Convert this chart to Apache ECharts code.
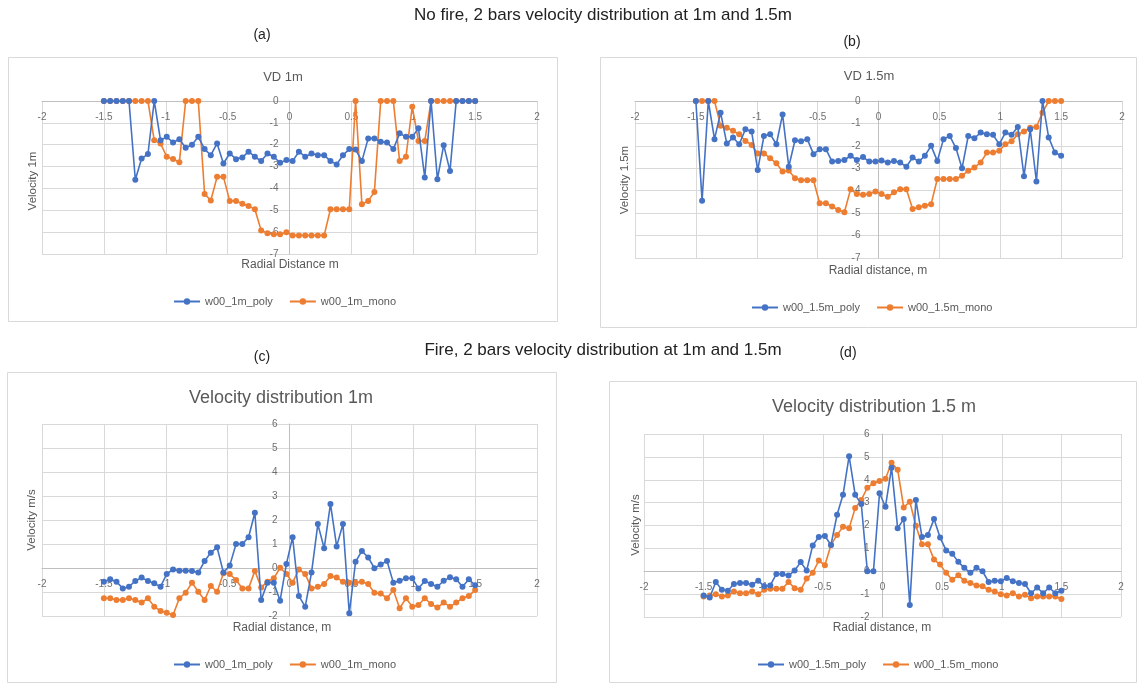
<!DOCTYPE html>
<html><head><meta charset="utf-8">
<script src="https://cdn.jsdelivr.net/npm/echarts@6/dist/echarts.min.js"></script>
<style>html,body{margin:0;padding:0;background:#fff}#c{width:1137px;height:684px}</style>
</head><body><div id="c"></div>
<script>
// Radial distance positions (m), 60 points
const xs = [-1.5, -1.449, -1.398, -1.347, -1.297, -1.246, -1.195, -1.144, -1.093, -1.042,
  -0.992, -0.941, -0.89, -0.839, -0.788, -0.737, -0.686, -0.636, -0.585, -0.534,
  -0.483, -0.432, -0.381, -0.331, -0.28, -0.229, -0.178, -0.127, -0.076, -0.025,
  0.025, 0.076, 0.127, 0.178, 0.229, 0.28, 0.331, 0.381, 0.432, 0.483,
  0.534, 0.585, 0.636, 0.686, 0.737, 0.788, 0.839, 0.89, 0.941, 0.992,
  1.042, 1.093, 1.144, 1.195, 1.246, 1.297, 1.347, 1.398, 1.449, 1.5];

// (a) No fire, 1 m
const a_poly = [0,0,0,0,0,-3.6,-2.63,-2.43,0,-1.8,-1.64,-1.9,-1.75,-2.14,-2.0,-1.64,-2.2,-2.48,-1.94,-2.86,
  -2.4,-2.66,-2.58,-2.32,-2.55,-2.75,-2.4,-2.55,-2.83,-2.7,
  -2.75,-2.32,-2.55,-2.4,-2.48,-2.48,-2.75,-2.9,-2.48,-2.2,-2.22,-2.75,-1.71,-1.71,-1.87,-1.9,-2.2,-1.48,-1.64,-1.64,
  -1.25,-3.5,0,-3.58,-2.02,-3.2,0,0,0,0];
const a_mono = [0,0,0,0,0,0,0,0,-1.8,-1.95,-2.55,-2.65,-2.8,0,0,0,-4.25,-4.55,-3.47,-3.47,
  -4.57,-4.57,-4.7,-4.8,-4.95,-5.92,-6.05,-6.1,-6.1,-6.0,
  -6.15,-6.15,-6.15,-6.15,-6.15,-6.15,-4.95,-4.95,-4.95,-4.95,0,-4.72,-4.57,-4.16,0,0,0,-2.75,-2.55,-0.26,
  -1.83,-1.83,0,0,0,0,0,0,0,0];

// (b) No fire, 1.5 m
const b_poly = [0,-4.45,0,-1.7,-0.52,-1.9,-1.63,-1.93,-1.26,-1.36,-3.08,-1.56,-1.48,-1.93,-0.6,-2.93,-1.75,-1.8,-1.7,-2.37,
  -2.15,-2.15,-2.7,-2.67,-2.63,-2.44,-2.63,-2.5,-2.7,-2.7,
  -2.65,-2.74,-2.67,-2.74,-2.93,-2.52,-2.7,-2.44,-2.0,-2.67,-1.7,-1.56,-2.1,-3.0,-1.56,-1.66,-1.41,-1.48,-1.51,-1.93,
  -1.41,-1.51,-1.16,-3.36,-1.26,-3.59,0,-1.63,-2.3,-2.44];
const b_mono = [0,0,0,0,-1.1,-1.19,-1.33,-1.48,-1.78,-1.96,-2.34,-2.34,-2.55,-2.78,-3.14,-3.1,-3.44,-3.53,-3.53,-3.53,
  -4.56,-4.56,-4.7,-4.86,-4.96,-3.93,-4.15,-4.18,-4.15,-4.03,
  -4.15,-4.27,-4.07,-3.93,-3.93,-4.81,-4.74,-4.67,-4.6,-3.48,-3.48,-3.48,-3.48,-3.33,-3.11,-2.96,-2.74,-2.3,-2.3,-2.22,
  -1.93,-1.8,-1.48,-1.36,-1.19,-1.16,-0.52,0,0,0];

// (c) Fire, 1 m
const c_poly = [-0.57,-0.47,-0.57,-0.85,-0.78,-0.54,-0.4,-0.54,-0.64,-0.78,-0.25,-0.06,-0.11,-0.11,-0.12,-0.19,0.29,0.64,0.86,-0.19,
  0.1,1.0,1.0,1.28,2.3,-1.33,-0.61,-0.61,-1.36,0.17,
  1.28,-1.17,-1.61,-0.19,1.83,0.82,2.67,0.9,1.83,-1.89,0.26,0.71,0.44,-0.01,0.15,0.29,-0.61,-0.53,-0.43,-0.43,
  -0.85,-0.54,-0.67,-0.78,-0.53,-0.39,-0.47,-0.78,-0.47,-0.72];
const c_mono = [-1.26,-1.26,-1.33,-1.33,-1.26,-1.33,-1.44,-1.26,-1.61,-1.79,-1.86,-1.96,-1.26,-1.03,-0.61,-0.99,-1.33,-0.75,-0.99,-0.22,
  -0.25,-0.5,-0.85,-0.85,-0.12,-0.81,-0.57,-0.43,0.01,-0.25,
  -0.61,-0.06,-0.25,-0.85,-0.78,-0.67,-0.33,-0.4,-0.57,-0.61,-0.61,-0.57,-0.67,-1.03,-1.06,-1.26,-0.92,-1.68,-1.26,-1.61,
  -1.54,-1.26,-1.5,-1.65,-1.44,-1.61,-1.44,-1.26,-1.17,-0.92];

// (d) Fire, 1.5 m
const d_poly = [-1.06,-1.15,-0.47,-0.81,-0.85,-0.56,-0.51,-0.51,-0.59,-0.41,-0.66,-0.62,-0.12,-0.12,-0.19,0.03,0.4,0.03,1.13,1.5,
  1.54,1.15,2.47,3.34,5.03,3.34,2.94,0,0,3.41,
  2.82,4.53,1.88,2.28,-1.47,3.12,1.5,1.59,2.28,1.47,0.91,0.76,0.41,0.15,-0.07,0.15,0,-0.47,-0.41,-0.44,
  -0.29,-0.44,-0.51,-0.56,-0.96,-0.71,-0.96,-0.71,-0.96,-0.85];
const d_mono = [-1.1,-1.06,-1.0,-1.1,-1.06,-0.88,-0.96,-0.96,-0.88,-1.0,-0.81,-0.76,-0.76,-0.76,-0.47,-0.74,-0.81,-0.32,-0.07,0.47,
  0.26,1.15,1.59,1.94,1.88,2.76,3.12,3.65,3.85,3.94,
  4.04,4.74,4.44,2.79,3.04,1.99,1.18,1.18,0.51,0.29,-0.07,-0.37,-0.18,-0.41,-0.51,-0.62,-0.66,-0.81,-0.88,-1.0,
  -1.06,-0.96,-1.1,-1.03,-1.18,-1.1,-1.1,-1.1,-1.1,-1.21];

const names = [['w00_1m_poly','w00_1m_mono'],['w00_1.5m_poly','w00_1.5m_mono'],['w00_1m_poly','w00_1m_mono'],['w00_1.5m_poly','w00_1.5m_mono']];
const seriesVals = [[a_poly,a_mono],[b_poly,b_mono],[c_poly,c_mono],[d_poly,d_mono]];
const yRanges = [[-7,0],[-7,0],[-2,6],[-2,6]];
const panelTitles = ['VD 1m','VD 1.5m','Velocity distribution 1m','Velocity distribution 1.5 m'];
const yNames = ['Velocity 1m','Velocity 1.5m','Velocity m/s','Velocity m/s'];
const xNames = ['Radial Distance m','Radial distance, m','Radial distance, m','Radial distance, m'];

const BLUE = '#4472c4', ORANGE = '#ed7d31';
const FONT = '"Liberation Sans", Arial, sans-serif';

const grids = [
  {left:42, top:101, width:495, height:153},
  {left:635, top:101, width:487, height:157},
  {left:42, top:424, width:495, height:192},
  {left:644, top:434, width:477, height:183}
];
const yMargins = [11, 18, 12, 13];

// x axis sits on y = 0, y axis sits on x = 0 (placed through offsets)
const xAxes = grids.map((g,i)=>{
  const r = yRanges[i];
  const top = r[1] === 0;
  return {
    type:'value', gridIndex:i, min:-2, max:2, interval:0.5,
    position: top ? 'top' : 'bottom',
    offset: top ? 0 : -g.height * (0 - r[0]) / (r[1] - r[0]),
    axisLine:{show:true, onZero:false, lineStyle:{color:'#bfbfbf', width:1}},
    axisTick:{show:false},
    axisLabel:{color:'#6e6e6e', fontSize:10, fontFamily:FONT, margin:11, inside: top},
    splitLine:{show:true, lineStyle:{color:'#d9d9d9', width:1}}
  };
});
const yAxes = grids.map((g,i)=>({
  type:'value', gridIndex:i, min:yRanges[i][0], max:yRanges[i][1], interval:1,
  position:'left', offset: -g.width/2,
  axisLine:{show:true, onZero:false, lineStyle:{color:'#bfbfbf', width:1}},
  axisTick:{show:false},
  axisLabel:{color:'#6e6e6e', fontSize:10, fontFamily:FONT, margin:yMargins[i]},
  splitLine:{show:true, lineStyle:{color:'#d9d9d9', width:1}}
}));

const series = [];
seriesVals.forEach((pair, p)=>{
  pair.forEach((vals, k)=>{
    const col = k===0 ? BLUE : ORANGE;
    series.push({
      type:'line', name:names[p][k], xAxisIndex:p, yAxisIndex:p,
      data: xs.map((x,i)=>[x, vals[i]]),
      symbol:'circle', symbolSize:6, showSymbol:true,
      lineStyle:{color:col, width:1.6}, itemStyle:{color:col},
      z: k===0 ? 3 : 2, animation:false
    });
  });
});

const legendPos = [{left:168, top:291},{left:746, top:297},{left:168, top:654},{left:752, top:654}];
const legends = legendPos.map((lp,i)=>({
  data:names[i], left:lp.left, top:lp.top, itemWidth:26, itemHeight:8, itemGap:16,
  textStyle:{color:'#595959', fontSize:11, fontFamily:FONT}
}));

function txt(text, x, y, size, color, font, rot){
  const el = {type:'text', x:x, y:y, silent:true, z:10,
    style:{text:text, fill:color, font: size+'px '+font,
      textAlign:'center', textVerticalAlign:'middle', align:'center', verticalAlign:'middle'}};
  if (rot) el.rotation = rot;
  return el;
}
function box(x,y,w,h){
  return {type:'rect', silent:true, z:-1, shape:{x:x,y:y,width:w,height:h},
    style:{fill:'#fff', stroke:'#d9d9d9', lineWidth:1}};
}

const graphics = [
  box(8.5,57.5,549,264), box(600.5,57.5,536,270), box(7.5,372.5,549,310), box(609.5,381.5,527,301),
  txt('No fire, 2 bars velocity distribution at 1m and 1.5m', 603, 15, 17, '#222', FONT),
  txt('(a)', 262, 35, 14, '#222', FONT),
  txt('(b)', 852, 42, 14, '#222', FONT),
  txt('Fire, 2 bars velocity distribution at 1m and 1.5m', 603, 350, 17, '#222', FONT),
  txt('(c)', 262, 357, 14, '#222', FONT),
  txt('(d)', 848, 353, 14, '#222', FONT),
  txt(panelTitles[0], 283, 77, 13, '#595959', FONT),
  txt(panelTitles[1], 869, 76, 13, '#595959', FONT),
  txt(panelTitles[2], 281, 398, 18, '#595959', FONT),
  txt(panelTitles[3], 874, 407, 18, '#595959', FONT),
  txt(yNames[0], 33, 181, 11.5, '#595959', FONT, Math.PI/2),
  txt(yNames[1], 625, 180, 11.5, '#595959', FONT, Math.PI/2),
  txt(yNames[2], 32, 520, 11.5, '#595959', FONT, Math.PI/2),
  txt(yNames[3], 636, 525, 11.5, '#595959', FONT, Math.PI/2),
  txt(xNames[0], 290, 265, 12, '#595959', FONT),
  txt(xNames[1], 878, 271, 12, '#595959', FONT),
  txt(xNames[2], 282, 628, 12, '#595959', FONT),
  txt(xNames[3], 882, 628, 12, '#595959', FONT)
];

const chart = echarts.init(document.getElementById('c'), null, {renderer:'canvas'});
chart.setOption({
  animation:false,
  backgroundColor:'#fff',
  grid: grids,
  xAxis: xAxes,
  yAxis: yAxes,
  legend: legends,
  graphic: graphics,
  series: series
});
</script></body></html>
